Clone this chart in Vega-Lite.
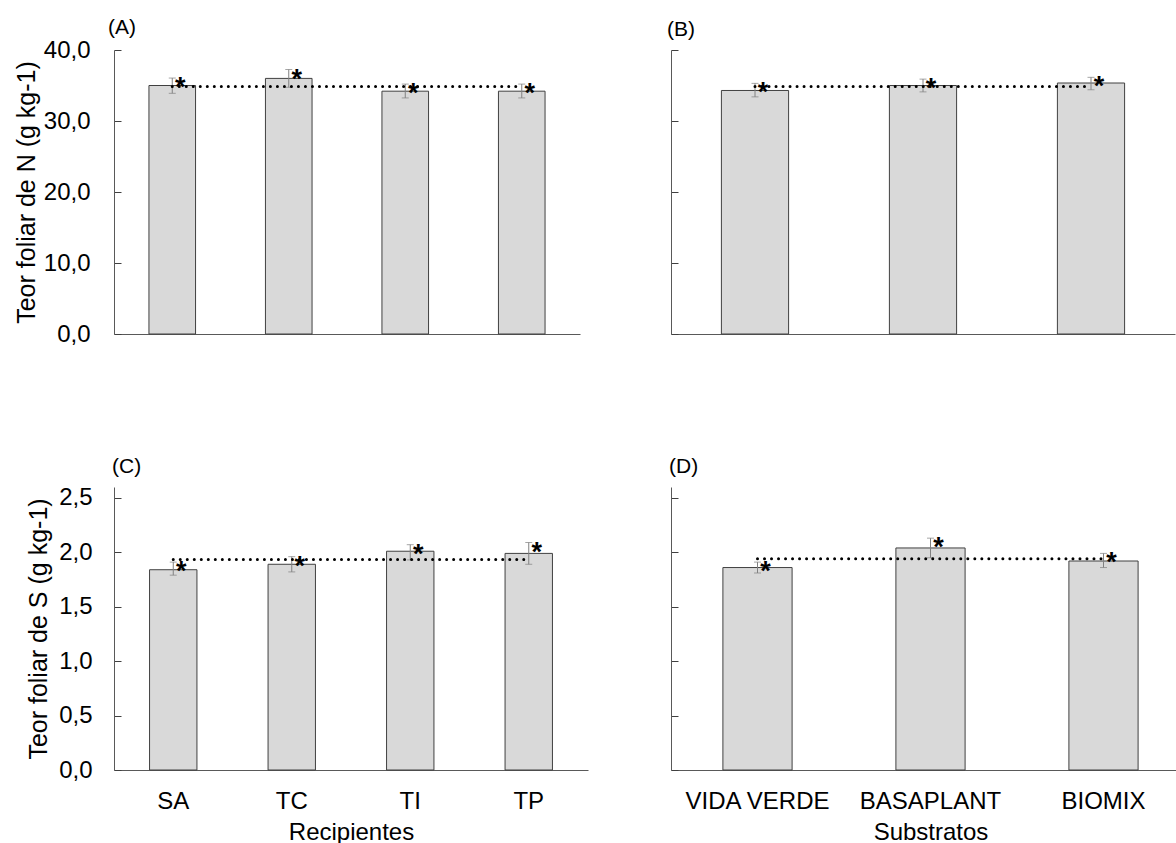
{
  "$schema": "https://vega.github.io/schema/vega-lite/v6.json",
  "background": "white",
  "padding": {"left": 14, "top": 17, "right": 0, "bottom": 0},
  "bounds": "flush",
  "columns": 2,
  "spacing": {"row": 153, "column": 83},
  "config": {
    "view": {"stroke": null},
    "font": "Liberation Sans",
    "axis": {
      "labelFont": "Liberation Sans",
      "titleFont": "Liberation Sans",
      "labelColor": "#000000",
      "titleColor": "#000000",
      "titleFontWeight": "normal",
      "grid": false,
      "domainColor": "#595959",
      "tickColor": "#404040",
      "labelFontSize": 24,
      "titleFontSize": 25
    },
    "title": {"font": "Liberation Sans", "fontSize": 21, "fontWeight": "normal", "color": "#000000", "anchor": "start", "frame": "group", "offset": 10}
  },
  "datasets": {
    "n_recipientes": [
      {"recipiente": "SA", "valor": 35.0, "inf": 33.9, "sup": 36.05, "media": 34.85},
      {"recipiente": "TC", "valor": 36.0, "inf": 34.75, "sup": 37.25, "media": 34.85},
      {"recipiente": "TI", "valor": 34.2, "inf": 33.25, "sup": 35.2, "media": 34.85},
      {"recipiente": "TP", "valor": 34.2, "inf": 33.25, "sup": 35.2, "media": 34.85}
    ],
    "n_substratos": [
      {"substrato": "VIDA VERDE", "valor": 34.3, "inf": 33.4, "sup": 35.3, "media": 34.85},
      {"substrato": "BASAPLANT", "valor": 35.0, "inf": 34.1, "sup": 35.9, "media": 34.85},
      {"substrato": "BIOMIX", "valor": 35.35, "inf": 34.4, "sup": 36.15, "media": 34.85}
    ],
    "s_recipientes": [
      {"recipiente": "SA", "valor": 1.84, "inf": 1.79, "sup": 1.91, "media": 1.935},
      {"recipiente": "TC", "valor": 1.89, "inf": 1.82, "sup": 1.96, "media": 1.935},
      {"recipiente": "TI", "valor": 2.01, "inf": 1.93, "sup": 2.07, "media": 1.935},
      {"recipiente": "TP", "valor": 1.99, "inf": 1.89, "sup": 2.09, "media": 1.935}
    ],
    "s_substratos": [
      {"substrato": "VIDA VERDE", "valor": 1.86, "inf": 1.81, "sup": 1.91, "media": 1.94},
      {"substrato": "BASAPLANT", "valor": 2.04, "inf": 1.95, "sup": 2.13, "media": 1.94},
      {"substrato": "BIOMIX", "valor": 1.92, "inf": 1.86, "sup": 1.99, "media": 1.94}
    ]
  },
  "concat": [
    {
      "width": 466,
      "height": 284,
      "title": {"text": "(A)", "dx": -6, "offset": 0},
      "data": {"name": "n_recipientes"},
      "encoding": {
        "x": {"field": "recipiente", "type": "nominal", "sort": null,
              "scale": {"paddingInner": 0.6, "paddingOuter": 0.3},
              "axis": {"title": null, "labels": false, "ticks": false}}
      },
      "layer": [
        {
          "mark": {"type": "bar", "fill": "#d9d9d9", "stroke": "#404040", "strokeWidth": 1},
          "encoding": {
            "y": {"field": "valor", "type": "quantitative", "title": "Teor foliar de N (g kg-1)",
                  "scale": {"domain": [0, 40]},
                  "axis": {"values": [0, 10, 20, 30, 40], "tickSize": -7, "labelPadding": 31, "titlePadding": 4,
                           "labelExpr": "replace(format(datum.value, '.1f'), '.', ',')"}}
          }
        },
        {
          "mark": {"type": "errorbar", "color": "#808080", "ticks": {"size": 7, "color": "#808080"}, "rule": {"color": "#808080"}},
          "encoding": {
            "y": {"field": "inf", "type": "quantitative", "title": "Teor foliar de N (g kg-1)"},
            "y2": {"field": "sup"}
          }
        },
        {
          "mark": {"type": "line", "color": "#000000", "strokeWidth": 3, "strokeCap": "round", "strokeDash": [0.01, 7]},
          "encoding": {"y": {"field": "media", "type": "quantitative", "title": "Teor foliar de N (g kg-1)"}}
        },
        {
          "mark": {"type": "text", "text": "*", "fontSize": 27, "fontWeight": "bold", "align": "center", "baseline": "top", "dx": 8, "dy": -3, "color": "#000000"},
          "encoding": {"y": {"field": "sup", "type": "quantitative", "title": "Teor foliar de N (g kg-1)"}}
        }
      ]
    },
    {
      "width": 504,
      "height": 284,
      "title": {"text": "(B)", "dx": -4},
      "data": {"name": "n_substratos"},
      "encoding": {
        "x": {"field": "substrato", "type": "nominal", "sort": null,
              "scale": {"paddingInner": 0.6, "paddingOuter": 0.3},
              "axis": {"title": null, "labels": false, "ticks": false}}
      },
      "layer": [
        {
          "mark": {"type": "bar", "fill": "#d9d9d9", "stroke": "#404040", "strokeWidth": 1},
          "encoding": {
            "y": {"field": "valor", "type": "quantitative", "title": null,
                  "scale": {"domain": [0, 40]},
                  "axis": {"values": [0, 10, 20, 30, 40], "tickSize": -7, "labels": false}}
          }
        },
        {
          "mark": {"type": "errorbar", "color": "#808080", "ticks": {"size": 7, "color": "#808080"}, "rule": {"color": "#808080"}},
          "encoding": {
            "y": {"field": "inf", "type": "quantitative", "title": null},
            "y2": {"field": "sup"}
          }
        },
        {
          "mark": {"type": "line", "color": "#000000", "strokeWidth": 3, "strokeCap": "round", "strokeDash": [0.01, 7]},
          "encoding": {"y": {"field": "media", "type": "quantitative", "title": null}}
        },
        {
          "mark": {"type": "text", "text": "*", "fontSize": 27, "fontWeight": "bold", "align": "center", "baseline": "top", "dx": 8, "dy": -3, "color": "#000000"},
          "encoding": {"y": {"field": "sup", "type": "quantitative", "title": null}}
        }
      ]
    },
    {
      "width": 474,
      "height": 283,
      "title": {"text": "(C)", "dx": -2, "offset": 9},
      "data": {"name": "s_recipientes"},
      "encoding": {
        "x": {"field": "recipiente", "type": "nominal", "sort": null,
              "scale": {"paddingInner": 0.6, "paddingOuter": 0.3},
              "axis": {"title": "Recipientes", "titleFontSize": 24, "ticks": false, "labelAngle": 0, "labelPadding": 19, "titlePadding": 7}}
      },
      "layer": [
        {
          "mark": {"type": "bar", "fill": "#d9d9d9", "stroke": "#404040", "strokeWidth": 1},
          "encoding": {
            "y": {"field": "valor", "type": "quantitative", "title": "Teor foliar de S (g kg-1)",
                  "scale": {"domain": [0, 2.5]},
                  "axis": {"values": [0, 0.5, 1, 1.5, 2, 2.5], "tickSize": -7, "labelPadding": 29, "titlePadding": 7,
                           "labelExpr": "replace(format(datum.value, '.1f'), '.', ',')"}}
          }
        },
        {
          "mark": {"type": "errorbar", "color": "#808080", "ticks": {"size": 7, "color": "#808080"}, "rule": {"color": "#808080"}},
          "encoding": {
            "y": {"field": "inf", "type": "quantitative", "title": "Teor foliar de S (g kg-1)"},
            "y2": {"field": "sup"}
          }
        },
        {
          "mark": {"type": "line", "color": "#000000", "strokeWidth": 3, "strokeCap": "round", "strokeDash": [0.01, 7]},
          "encoding": {"y": {"field": "media", "type": "quantitative", "title": "Teor foliar de S (g kg-1)"}}
        },
        {
          "mark": {"type": "text", "text": "*", "fontSize": 27, "fontWeight": "bold", "align": "center", "baseline": "top", "dx": 8, "dy": -3, "color": "#000000"},
          "encoding": {"y": {"field": "sup", "type": "quantitative", "title": "Teor foliar de S (g kg-1)"}}
        }
      ]
    },
    {
      "width": 519,
      "height": 283,
      "title": {"text": "(D)", "dx": -2},
      "data": {"name": "s_substratos"},
      "encoding": {
        "x": {"field": "substrato", "type": "nominal", "sort": null,
              "scale": {"paddingInner": 0.6, "paddingOuter": 0.3},
              "axis": {"title": "Substratos", "titleFontSize": 24, "ticks": false, "labelAngle": 0, "labelPadding": 19, "titlePadding": 7, "labelLimit": 300}}
      },
      "layer": [
        {
          "mark": {"type": "bar", "fill": "#d9d9d9", "stroke": "#404040", "strokeWidth": 1},
          "encoding": {
            "y": {"field": "valor", "type": "quantitative", "title": null,
                  "scale": {"domain": [0, 2.5]},
                  "axis": {"values": [0, 0.5, 1, 1.5, 2, 2.5], "tickSize": -7, "labels": false}}
          }
        },
        {
          "mark": {"type": "errorbar", "color": "#808080", "ticks": {"size": 7, "color": "#808080"}, "rule": {"color": "#808080"}},
          "encoding": {
            "y": {"field": "inf", "type": "quantitative", "title": null},
            "y2": {"field": "sup"}
          }
        },
        {
          "mark": {"type": "line", "color": "#000000", "strokeWidth": 3, "strokeCap": "round", "strokeDash": [0.01, 7]},
          "encoding": {"y": {"field": "media", "type": "quantitative", "title": null}}
        },
        {
          "mark": {"type": "text", "text": "*", "fontSize": 27, "fontWeight": "bold", "align": "center", "baseline": "top", "dx": 8, "dy": -3, "color": "#000000"},
          "encoding": {"y": {"field": "sup", "type": "quantitative", "title": null}}
        }
      ]
    }
  ]
}
